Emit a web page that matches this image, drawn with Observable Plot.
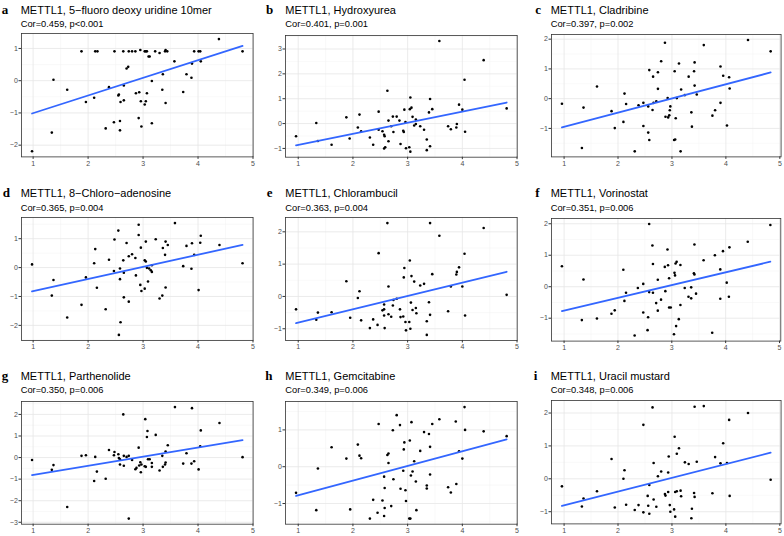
<!DOCTYPE html>
<html><head><meta charset="utf-8">
<script src="https://cdn.jsdelivr.net/npm/d3@7"></script>
<script src="https://cdn.jsdelivr.net/npm/@observablehq/plot@0.6"></script>
<style>
body{margin:0;background:#fff}
#root{position:relative;width:784px;height:536px;overflow:hidden;background:#fff}
#root svg{position:absolute}
</style>
</head><body><div id="root"></div>
<script>
// ---- data: [METTL1 expression, drug sensitivity z-score] per panel ----
const ptsA = [[0.98,-2.19],[1.34,-1.61],[1.37,0.03],[1.62,-0.28],[1.88,0.91],[1.96,-0.66],[2.11,-0.53],[2.13,0.91],[2.17,0.91],[2.32,-1.48],[2.38,-0.20],[2.47,-1.29],[2.48,0.91],[2.55,-0.46],[2.56,-0.43],[2.58,-1.54],[2.58,-1.25],[2.59,-0.66],[2.64,0.91],[2.65,-0.61],[2.65,-0.15],[2.70,0.38],[2.73,0.43],[2.74,0.91],[2.80,0.91],[2.86,0.91],[2.87,-0.39],[2.92,-1.16],[2.93,-0.36],[2.95,0.95],[2.96,-0.64],[2.97,-1.42],[3.03,0.91],[3.03,-0.74],[3.05,0.91],[3.05,-0.64],[3.07,-0.39],[3.07,0.91],[3.10,0.75],[3.12,0.75],[3.16,-0.01],[3.16,-1.32],[3.22,0.91],[3.30,0.86],[3.35,-0.28],[3.36,0.20],[3.40,0.91],[3.41,0.95],[3.41,-0.69],[3.44,0.91],[3.57,0.60],[3.73,-0.35],[3.79,0.20],[3.88,0.09],[3.89,0.53],[3.93,0.91],[4.01,0.91],[4.04,0.91],[4.05,0.60],[4.38,1.29],[4.81,0.91]];
const ptsB = [[0.96,-0.51],[1.33,0.02],[1.36,-0.70],[1.61,-0.85],[1.88,0.25],[1.94,-0.60],[2.09,-0.16],[2.12,0.36],[2.15,-0.31],[2.31,-0.56],[2.37,-0.85],[2.47,0.48],[2.47,-0.25],[2.54,-0.31],[2.57,-1.00],[2.57,-0.45],[2.58,-0.51],[2.59,-0.95],[2.63,1.32],[2.65,0.12],[2.65,-0.71],[2.70,-0.11],[2.73,0.28],[2.74,-0.34],[2.80,0.28],[2.85,0.12],[2.87,-0.82],[2.92,-0.29],[2.93,-0.34],[2.94,0.56],[2.96,0.06],[2.97,-0.99],[3.03,-0.95],[3.04,0.58],[3.05,1.05],[3.07,0.64],[3.05,-1.13],[3.09,0.27],[3.12,-0.08],[3.15,0.16],[3.15,-0.02],[3.23,-0.11],[3.30,-0.25],[3.35,-0.64],[3.35,-1.07],[3.39,0.45],[3.41,0.99],[3.41,-0.91],[3.45,0.58],[3.58,3.32],[3.74,-0.11],[3.79,-0.23],[3.89,-0.16],[3.90,-0.02],[3.94,0.76],[4.00,0.56],[4.04,1.76],[4.05,-0.33],[4.39,2.55],[4.81,0.61]];
const ptsC = [[0.96,-0.17],[1.33,-1.66],[1.36,-0.30],[1.61,0.41],[1.88,-0.42],[1.94,-0.99],[2.10,-0.78],[2.12,0.17],[2.15,-0.18],[2.31,-1.77],[2.38,-0.22],[2.47,-0.14],[2.47,-0.92],[2.56,-0.26],[2.56,-1.14],[2.58,-1.39],[2.58,0.96],[2.64,-0.38],[2.65,0.74],[2.66,-0.14],[2.71,-0.09],[2.74,0.89],[2.74,0.33],[2.80,1.26],[2.87,1.88],[2.88,-0.61],[2.92,0.02],[2.93,-0.63],[2.95,-0.56],[2.96,-0.39],[2.97,-0.26],[3.04,-1.39],[3.06,-1.37],[3.05,0.92],[3.07,-0.66],[3.09,0.02],[3.13,1.18],[3.16,-1.77],[3.17,0.31],[3.24,0.12],[3.31,0.74],[3.36,-0.46],[3.37,-0.94],[3.41,0.92],[3.42,1.22],[3.42,0.44],[3.46,0.14],[3.59,1.80],[3.75,-0.57],[3.80,-0.39],[3.90,1.08],[3.90,-0.14],[3.95,0.77],[4.02,-0.90],[4.06,0.72],[4.07,0.34],[4.41,1.97],[4.83,1.59]];
const ptsD = [[0.98,0.11],[1.34,-0.97],[1.37,-0.43],[1.62,-1.73],[1.88,-1.29],[1.96,-0.34],[2.11,0.15],[2.13,0.64],[2.16,-0.70],[2.32,-1.44],[2.38,0.27],[2.47,-0.12],[2.48,0.97],[2.55,1.28],[2.56,-2.33],[2.58,-0.03],[2.58,-0.40],[2.59,-1.89],[2.64,0.25],[2.65,-1.03],[2.65,-0.18],[2.70,0.85],[2.74,0.39],[2.74,-1.18],[2.80,0.46],[2.86,0.33],[2.87,-0.27],[2.92,1.48],[2.92,1.13],[2.95,-0.60],[2.96,0.69],[2.97,-0.81],[3.03,-0.73],[3.03,0.25],[3.05,0.21],[3.05,0.90],[3.07,-0.01],[3.09,-0.48],[3.11,-0.03],[3.14,-0.09],[3.16,-0.15],[3.16,0.08],[3.23,0.98],[3.30,-1.07],[3.35,-0.97],[3.36,0.68],[3.40,0.44],[3.41,0.90],[3.41,-0.69],[3.45,0.78],[3.58,1.54],[3.73,0.05],[3.79,0.75],[3.88,-0.04],[3.89,0.84],[3.93,0.44],[4.01,-0.78],[4.04,0.86],[4.05,1.10],[4.39,0.78],[4.81,0.15]];
const ptsE = [[0.96,-0.40],[1.33,-0.72],[1.36,-0.50],[1.61,-0.49],[1.88,0.47],[1.95,-0.66],[2.09,-0.05],[2.12,0.16],[2.15,-0.74],[2.31,-0.98],[2.37,-0.71],[2.45,-0.88],[2.47,1.34],[2.54,-0.43],[2.57,-0.40],[2.57,-0.25],[2.57,-0.59],[2.58,-0.98],[2.63,2.27],[2.65,0.31],[2.65,-0.55],[2.70,-0.63],[2.73,-0.28],[2.74,-0.11],[2.80,-0.07],[2.86,-0.40],[2.87,-0.64],[2.92,-0.62],[2.93,0.59],[2.94,0.88],[2.96,-0.79],[2.97,-1.05],[3.03,-0.79],[3.04,1.11],[3.05,-1.00],[3.06,-0.19],[3.07,0.63],[3.09,-0.42],[3.12,0.46],[3.15,-0.36],[3.16,-0.52],[3.23,0.34],[3.30,0.39],[3.35,-0.77],[3.35,-1.19],[3.39,-0.18],[3.41,2.27],[3.41,-0.57],[3.45,0.69],[3.58,1.88],[3.74,-0.46],[3.79,0.31],[3.89,0.68],[3.90,0.76],[3.94,0.90],[4.00,0.31],[4.04,1.32],[4.05,-0.59],[4.39,2.12],[4.81,0.05]];
const ptsF = [[0.96,0.65],[1.33,-1.06],[1.36,0.23],[1.61,-1.01],[1.88,-0.86],[1.94,-0.75],[2.10,0.54],[2.12,-0.45],[2.15,-0.19],[2.31,-1.55],[2.37,-0.04],[2.47,-0.82],[2.47,0.09],[2.55,-1.38],[2.56,-0.97],[2.58,1.99],[2.58,-0.17],[2.64,1.31],[2.65,-0.19],[2.65,0.72],[2.71,-0.52],[2.74,0.22],[2.74,-0.76],[2.80,-0.41],[2.87,0.63],[2.88,-0.14],[2.92,1.18],[2.93,0.68],[2.95,0.27],[2.95,-0.66],[2.98,-0.66],[3.04,-1.51],[3.05,0.44],[3.06,0.36],[3.07,0.74],[3.09,0.79],[3.08,-1.25],[3.13,-1.03],[3.16,0.69],[3.16,-0.58],[3.24,-0.04],[3.31,-0.32],[3.36,-0.02],[3.36,-0.37],[3.41,0.43],[3.42,0.39],[3.42,1.34],[3.45,-0.22],[3.59,0.84],[3.75,-1.46],[3.80,1.00],[3.90,0.55],[3.90,-0.38],[3.95,1.13],[4.02,0.13],[4.06,-0.32],[4.07,1.25],[4.41,1.43],[4.83,1.96]];
const ptsG = [[0.98,-0.11],[1.34,-0.57],[1.37,-0.35],[1.62,-2.29],[1.88,0.08],[1.96,0.11],[2.11,-1.09],[2.13,0.03],[2.16,-0.65],[2.32,-0.98],[2.38,0.35],[2.47,0.11],[2.48,0.26],[2.55,0.15],[2.56,-0.02],[2.58,-0.32],[2.58,-0.08],[2.64,2.00],[2.65,0.08],[2.65,-0.38],[2.70,0.03],[2.74,0.08],[2.74,-2.83],[2.80,-0.11],[2.86,-0.54],[2.88,-0.48],[2.92,0.46],[2.93,-0.37],[2.95,-0.22],[2.96,-0.68],[2.97,-0.32],[3.03,-0.40],[3.05,-0.43],[3.04,1.78],[3.07,0.95],[3.08,1.23],[3.09,-0.08],[3.12,-0.08],[3.16,-0.25],[3.16,-0.43],[3.23,1.05],[3.30,-0.60],[3.35,0.08],[3.36,-0.43],[3.40,-0.32],[3.41,-0.23],[3.41,0.28],[3.45,0.57],[3.58,2.34],[3.73,-0.28],[3.79,0.20],[3.88,-0.28],[3.89,2.29],[3.93,-0.17],[4.01,-0.55],[4.04,0.52],[4.05,1.26],[4.39,1.60],[4.81,0.02]];
const ptsH = [[0.96,-0.71],[1.33,-1.18],[1.36,-0.05],[1.61,0.53],[1.88,0.22],[1.95,-1.16],[2.09,0.60],[2.12,0.30],[2.15,0.23],[2.31,-1.41],[2.37,-0.90],[2.45,-1.25],[2.47,1.16],[2.54,-0.92],[2.57,-1.34],[2.57,-0.27],[2.58,-0.58],[2.58,-1.12],[2.63,0.32],[2.65,0.36],[2.65,0.10],[2.70,-1.07],[2.73,0.99],[2.74,-0.34],[2.80,1.40],[2.86,1.13],[2.87,-0.60],[2.92,-0.11],[2.93,0.47],[2.94,0.66],[2.96,-0.64],[2.97,-0.93],[3.03,-1.41],[3.04,0.71],[3.05,-1.41],[3.06,-0.24],[3.07,1.21],[3.09,-0.13],[3.12,0.15],[3.15,-0.40],[3.16,-1.18],[3.23,0.43],[3.30,0.94],[3.35,-0.51],[3.35,-0.59],[3.39,0.89],[3.41,0.54],[3.41,-0.21],[3.45,1.16],[3.58,1.29],[3.74,-0.56],[3.79,-0.70],[3.89,-0.47],[3.88,1.23],[3.94,0.42],[4.00,0.22],[4.04,1.62],[4.05,1.00],[4.39,0.96],[4.81,0.83]];
const ptsI = [[0.96,-0.23],[1.33,-0.84],[1.36,-0.60],[1.61,-0.38],[1.88,0.60],[1.94,-0.87],[2.10,0.00],[2.12,0.26],[2.15,-0.79],[2.31,-0.95],[2.38,-0.80],[2.47,1.64],[2.47,-1.02],[2.55,-0.52],[2.56,-0.82],[2.58,-0.19],[2.58,-1.06],[2.64,2.17],[2.66,0.48],[2.66,-0.63],[2.71,-0.85],[2.74,0.08],[2.80,0.22],[2.87,-0.46],[2.88,-0.51],[2.93,0.19],[2.94,0.68],[2.93,-0.40],[2.96,-0.80],[2.97,-1.00],[3.04,-0.93],[3.05,1.28],[3.06,-1.15],[3.06,-0.40],[3.09,0.76],[3.09,-0.38],[3.13,0.93],[3.16,-0.36],[3.17,-0.53],[3.24,0.50],[3.31,0.45],[3.36,-1.20],[3.37,-0.91],[3.41,-0.43],[3.42,-0.55],[3.42,2.19],[3.46,0.52],[3.59,2.21],[3.75,-0.44],[3.80,0.66],[3.90,0.47],[3.95,1.08],[4.02,0.48],[4.06,1.79],[4.07,-0.52],[4.41,2.00],[4.83,-0.03]];

const letters = ["a","b","c","d","e","f","g","h","i"];
const titles = ["METTL1, 5\u2212fluoro deoxy uridine 10mer","METTL1, Hydroxyurea","METTL1, Cladribine","METTL1, 8\u2212Chloro\u2212adenosine","METTL1, Chlorambucil","METTL1, Vorinostat","METTL1, Parthenolide","METTL1, Gemcitabine","METTL1, Uracil mustard"];
const stats = ["Cor=0.459, p<0.001","Cor=0.401, p=0.001","Cor=0.397, p=0.002","Cor=0.365, p=0.004","Cor=0.363, p=0.004","Cor=0.351, p=0.006","Cor=0.350, p=0.006","Cor=0.349, p=0.006","Cor=0.348, p=0.006"];
const xTicks = [1,2,3,4,5];
const series = [ptsA,ptsB,ptsC,ptsD,ptsE,ptsF,ptsG,ptsH,ptsI];

// ---- layout (page pixels): panel frame [left, top, right, bottom] ----
const frames = [
 [20.7,33.3,252.3,156.7],[285.3,35,517,156.7],[550.7,34.3,780.3,156.7],
 [20.7,217.3,252.3,340.3],[285.3,217.3,517,340.3],[550.7,217.7,780,340.3],
 [20.7,401,252.3,523.7],[285.3,401,517,523.7],[550.7,400.3,780.3,523.7]
];
const letterX = [1.7,266,535.3, 2.7,266.7,535.3, 1.7,265.3,533.7];
const titleY = [13.8,13.8,13.8, 196.8,196.8,196.8, 380.3,380.3,380.3];
const subY = [27,27,27, 210.5,210.5,210.5, 393.3,393.3,393.3];

const root = document.getElementById("root");
const mL = 22, mR = 4, mT = 4, mB = 14;

function expand(ext){const p=(ext[1]-ext[0])*0.05;return [ext[0]-p, ext[1]+p];}

series.forEach((pts, i) => {
  const [L,T,R,B] = frames[i];
  const xd = expand(d3.extent(pts, d => d[0]));
  const yd = expand(d3.extent(pts, d => d[1]));
  const yTicks = d3.range(Math.ceil(yd[0]), Math.floor(yd[1]) + 1);
  const xMinor = d3.range(0.5, 6, 1).filter(v => v > xd[0] && v < xd[1]);
  const yMinor = d3.range(Math.floor(yd[0]) + 0.5, yd[1], 1).filter(v => v > yd[0] && v < yd[1]);
  const chart = Plot.plot({
    width: R - L + mL + mR, height: B - T + mT + mB,
    marginLeft: mL, marginRight: mR, marginTop: mT, marginBottom: mB,
    x: {domain: xd}, y: {domain: yd},
    style: {fontFamily: "'Liberation Sans', Arial, sans-serif", fontSize: "7px", color: "#4D4D4D", background: "transparent", overflow: "visible"},
    marks: [
      Plot.gridX(xMinor, {stroke: "#F2F2F2", strokeOpacity: 1, strokeWidth: 0.5}),
      Plot.gridY(yMinor, {stroke: "#F2F2F2", strokeOpacity: 1, strokeWidth: 0.5}),
      Plot.gridX(xTicks, {stroke: "#E6E6E6", strokeOpacity: 1, strokeWidth: 0.8}),
      Plot.gridY(yTicks, {stroke: "#E6E6E6", strokeOpacity: 1, strokeWidth: 0.8}),
      Plot.dot(pts, {x: d => d[0], y: d => d[1], r: 1.3, fill: "black", stroke: null}),
      Plot.linearRegressionY(pts, {x: d => d[0], y: d => d[1], stroke: "#3366FF", strokeWidth: 1.8, ci: 0}),
      Plot.frame({stroke: "#333333", strokeWidth: 0.8}),
      Plot.axisX(xTicks, {tickSize: 2.5, tickPadding: 1.5, label: null, stroke: "#333333"}),
      Plot.axisY(yTicks, {tickSize: 2.5, tickPadding: 1.2, label: null, stroke: "#333333"})
    ]
  });
  chart.style.left = (L - mL) + "px";
  chart.style.top = (T - mT) + "px";
  root.appendChild(chart);
});

// ---- panel letters, titles and subtitles ----
const overlay = d3.select(root).append("svg")
  .attr("width", 784).attr("height", 536)
  .style("left", "0px").style("top", "0px").style("pointer-events", "none");
letters.forEach((l, i) => {
  overlay.append("text").attr("x", letterX[i]).attr("y", titleY[i])
    .attr("font-family", "'Liberation Serif', 'Times New Roman', serif")
    .attr("font-weight", "bold").attr("font-size", 13).attr("fill", "#000").text(l);
  overlay.append("text").attr("x", frames[i][0]).attr("y", titleY[i])
    .attr("font-family", "'Liberation Sans', Arial, sans-serif")
    .attr("font-size", 11).attr("fill", "#000").text(titles[i]);
  overlay.append("text").attr("x", frames[i][0]).attr("y", subY[i])
    .attr("font-family", "'Liberation Sans', Arial, sans-serif")
    .attr("font-size", 9.3).attr("fill", "#000").text(stats[i]);
});
</script>
</body></html>
